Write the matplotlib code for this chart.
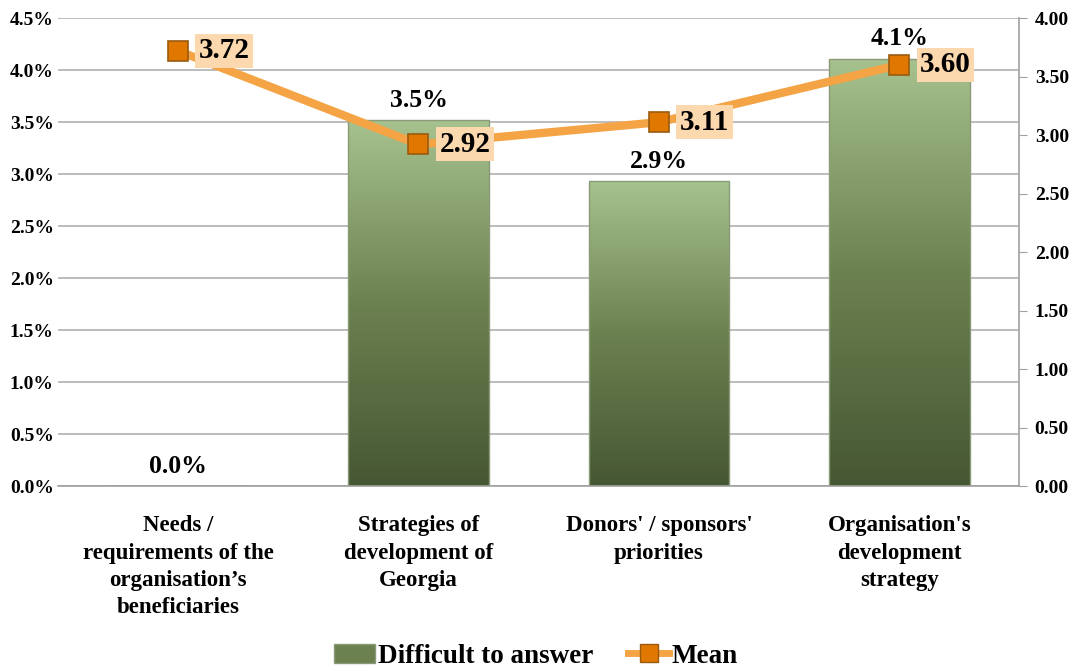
import matplotlib
matplotlib.use("Agg")
import matplotlib.pyplot as plt
import numpy as np
from matplotlib.patches import Rectangle
from matplotlib.lines import Line2D
from matplotlib.colors import LinearSegmentedColormap

categories = ["Needs /\nrequirements of the\norganisation\u2019s\nbeneficiaries",
              "Strategies of\ndevelopment of\nGeorgia",
              "Donors' / sponsors'\npriorities",
              "Organisation's\ndevelopment\nstrategy"]
difficult = [0.0, 3.52, 2.93, 4.11]
mean_vals = [3.72, 2.92, 3.11, 3.60]
left_ticks = [0, 0.5, 1.0, 1.5, 2.0, 2.5, 3.0, 3.5, 4.0, 4.5]
right_ticks = [0, 0.5, 1.0, 1.5, 2.0, 2.5, 3.0, 3.5, 4.0]

plt.rcParams['font.family'] = ['Liberation Serif', 'DejaVu Serif']
plt.rcParams['font.weight'] = 'bold'

fig = plt.figure(figsize=(10.72, 6.71), dpi=100)
ax = fig.add_axes([0.054, 0.2757, 0.897, 0.6973])
x = np.arange(len(categories))
bw = 0.585

ax.set_xlim(-0.5, 3.5)
ax.set_ylim(0, 4.5)
ax.set_yticks(left_ticks)
ax.set_yticklabels([f"{t:.1f}%" for t in left_ticks], fontsize=14, fontweight='bold')
ax.yaxis.grid(True, color='#b0b0b0', linewidth=1.2)
ax.set_axisbelow(True)
ax.tick_params(axis='y', length=0, pad=3)
ax.tick_params(axis='x', length=0, pad=21)
for s in ['left', 'top', 'right']:
    ax.spines[s].set_visible(False)
ax.spines['bottom'].set_color('#a0a0a0')
ax.spines['bottom'].set_linewidth(1.2)
ax.set_xticks(x)
ax.set_xticklabels(categories, fontsize=16.5, fontweight='bold', linespacing=1.4)

# gradient bars
grad = np.linspace(0, 1, 256).reshape(-1, 1)
cmap = LinearSegmentedColormap.from_list('g', ['#465733', '#6c8150', '#a6c28e'])
bars = ax.bar(x, difficult, width=bw, color='none', edgecolor='#8a9a78', linewidth=1, zorder=2)
for b in bars:
    h = b.get_height()
    if h <= 0:
        continue
    x0 = b.get_x()
    im = ax.imshow(grad, extent=[x0, x0 + bw, 0, h], origin='lower', cmap=cmap,
                   aspect='auto', zorder=1.5, interpolation='bicubic')
    im.set_clip_path(b)
for xi, v in zip(x, difficult):
    ax.text(xi, v + 0.08, f"{v:.1f}%", ha='center', va='bottom', fontsize=18.5, fontweight='bold', zorder=5)

ax2 = ax.twinx()
ax2.set_ylim(0, 4.0)
ax2.set_yticks(right_ticks)
ax2.set_yticklabels([f"{t:.2f}" for t in right_ticks], fontsize=14, fontweight='bold')
for s in ['left', 'top', 'bottom']:
    ax2.spines[s].set_visible(False)
ax2.spines['right'].set_color('#a0a0a0')
ax2.spines['right'].set_linewidth(1.2)
ax2.tick_params(axis='y', direction='out', length=6, color='#a0a0a0', pad=5)
ax2.plot(x, mean_vals, color='#f5a445', linewidth=6, marker='s', markersize=15,
         markerfacecolor='#e07800', markeredgecolor='#9a5a10', markeredgewidth=1.2, zorder=4,
         solid_capstyle='round')
for xi, v in zip(x, mean_vals):
    ax2.annotate(f"{v:.2f}", (xi, v), xytext=(15, 0), textcoords='offset points',
                 ha='left', va='center', fontsize=21, fontweight='bold',
                 bbox=dict(boxstyle='square,pad=0.12', facecolor='#fcd8ae', edgecolor='none'),
                 zorder=6)

handles = [Rectangle((0, 0), 1, 1, facecolor='#6c8150', edgecolor='#8a9a78'),
           Line2D([0], [0], color='#f5a445', linewidth=5, marker='s', markersize=13,
                  markerfacecolor='#e07800', markeredgecolor='#9a5a10')]
fig.legend(handles, ['Difficult to answer', 'Mean'], loc='lower center', ncol=2,
           bbox_to_anchor=(0.5, -0.033), frameon=False,
           handlelength=1.5, handletextpad=0.1, columnspacing=1.3,
           prop={'weight': 'bold', 'size': 19.5, 'family': ['Liberation Serif']})

fig.savefig('out.png', dpi=100)
